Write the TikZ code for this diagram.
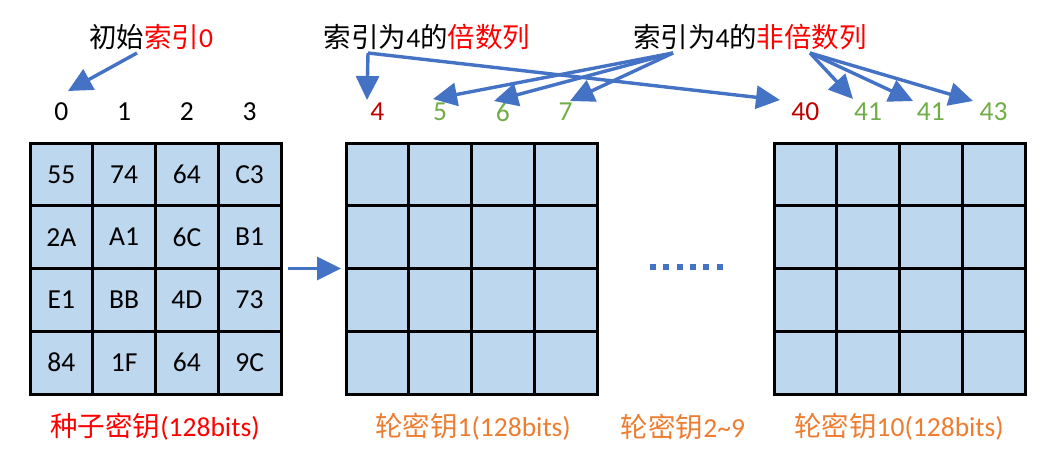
\documentclass[tikz,border=0pt]{standalone}
\usepackage{fontspec}
\setmainfont{Carlito}
\newfontfamily\cjk{Noto Sans CJK SC}
\usetikzlibrary{arrows.meta,calc}
\definecolor{cellblue}{HTML}{BDD7EE}
\definecolor{arrblue}{HTML}{4472C4}
\definecolor{dred}{HTML}{C00000}
\definecolor{lgreen}{HTML}{70AD47}
\definecolor{orng}{HTML}{ED7D31}
\definecolor{pred}{HTML}{FF0000}
\begin{document}
\begin{tikzpicture}[x=1pt,y=-1pt,
  txt/.style={font=\fontsize{27.5}{32}\selectfont, inner sep=0pt},
  gridbox/.style={draw=black, fill=cellblue, line width=3pt, minimum width=251pt, minimum height=251pt, inner sep=0pt, outer sep=0pt},
  gline/.style={line width=3pt, draw=black},
  arr/.style={draw=arrblue, line width=3.4pt, -{Triangle[length=24pt,width=23pt]}},
  dotline/.style={draw=arrblue, line width=6pt, dash pattern=on 6pt off 7.3pt}
]
\fill[white] (0,0) rectangle (1062,464);
\useasboundingbox (0,0) rectangle (1062,464);

% grids
\node[gridbox] (g1) at (155.5,268.5) {};
\node[gridbox] (g2) at (471.5,268.5) {};
\node[gridbox] (g3) at (899.5,268.5) {};
\foreach \g in {g1,g2,g3}{
  \foreach \f in {0.25,0.5,0.75}{
    \draw[gline] ($(\g.north west)!\f!(\g.north east)$) -- ($(\g.south west)!\f!(\g.south east)$);
    \draw[gline] ($(\g.north west)!\f!(\g.south west)$) -- ($(\g.north east)!\f!(\g.south east)$);
  }
}

% cell values
\foreach \v [count=\k from 0] in {55,74,64,C3,2A,A1,6C,B1,E1,BB,4D,73,84,1F,64,9C}{
  \pgfmathsetmacro{\cx}{30+62.75*(mod(\k,4)+0.5)}
  \pgfmathsetmacro{\cy}{143+62.75*(int(\k/4)+0.5)}
  \node[txt] (c\k) at (\cx,\cy) {\v};
}

% index numbers
\node[txt] (i0) at (61.4,112) {0};
\node[txt] (i1) at (124.1,112) {1};
\node[txt] (i2) at (186.9,112) {2};
\node[txt] (i3) at (249.6,112) {3};
\node[txt,text=dred] (i4) at (377.4,112) {4};
\node[txt,text=lgreen] (i5) at (440,112) {5};
\node[txt,text=lgreen] (i6) at (502.9,112) {6};
\node[txt,text=lgreen] (i7) at (565.6,112) {7};
\node[txt,text=dred] (i40) at (805.4,112) {40};
\node[txt,text=lgreen] (i41) at (868,112) {41};
\node[txt,text=lgreen] (i42) at (930.9,112) {41};
\node[txt,text=lgreen] (i43) at (993.6,112) {43};

% top labels
\node[txt] (t0) at (151,37) {{\cjk 初始}\textcolor{pred}{{\cjk 索引}0}};
\node[txt] (t1) at (427,37) {{\cjk 索引为}4{\cjk 的}\textcolor{pred}{\cjk 倍数列}};
\node[txt] (t2) at (750,37) {{\cjk 索引为}4{\cjk 的}\textcolor{pred}{\cjk 非倍数列}};

% bottom labels
\node[txt,text=pred] (b1) at (155,427) {{\cjk 种子密钥}(128bits)};
\node[txt,text=orng] (b2) at (473,427) {{\cjk 轮密钥}1(128bits)};
\node[txt,text=orng] (b3) at (683,427) {{\cjk 轮密钥}2\textasciitilde9};
\node[txt,text=orng] (b4) at (899,427) {{\cjk 轮密钥}10(128bits)};

% arrow start/end coordinates
\coordinate (s0) at (137,53);
\coordinate (e0) at (68,91);
\coordinate (s1) at (368,53);
\coordinate (e4) at (367,100);
\coordinate (e40) at (780,100);
\coordinate (s2) at (673,53);
\coordinate (e5) at (433,99);
\coordinate (e6) at (494,101);
\coordinate (e7) at (570,101);
\coordinate (s3) at (810,53);
\coordinate (e41) at (853,99);
\coordinate (e42) at (913,101);
\coordinate (e43) at (973,101);

\draw[arr] (s0) -- (e0);
\draw[arr] (s1) -- (e4);
\draw[arr] (s1) -- (e40);
\draw[arr] (s2) -- (e5);
\draw[arr] (s2) -- (e6);
\draw[arr] (s2) -- (e7);
\draw[arr] (s3) -- (e41);
\draw[arr] (s3) -- (e42);
\draw[arr] (s3) -- (e43);

% arrow between grids
\draw[arr, line width=3.2pt] ([xshift=7pt]g1.east) -- ([xshift=-5pt]g2.west);

% dots
\coordinate (d0) at (650,267);
\coordinate (d1) at (724,267);
\draw[dotline] (d0) -- (d1);
\end{tikzpicture}
\end{document}
